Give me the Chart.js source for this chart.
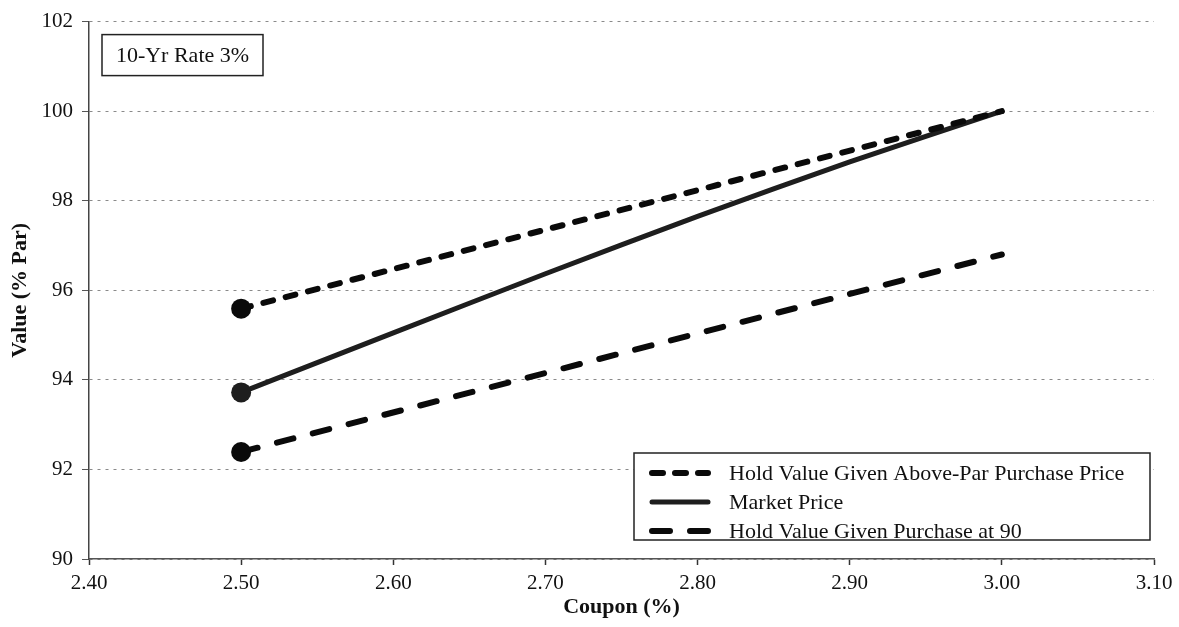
<!DOCTYPE html>
<html>
<head>
<meta charset="utf-8">
<script src="https://cdn.jsdelivr.net/npm/chart.js@4/dist/chart.umd.min.js"></script>
<style>
  html, body { margin: 0; padding: 0; background: #fff; }
  #wrap { width: 1179px; height: 627px; }
</style>
</head>
<body>
<div id="wrap"><canvas id="chart" width="1179" height="627"></canvas></div>
<script>
// values
const marketCoupons = [2.50, 2.60, 2.70, 2.80, 2.90, 3.00];
const marketPrice = [93.72, 95.05, 96.37, 97.65, 98.87, 100.0];
const holdCoupons = [2.50, 3.00];
const holdAbovePar = [95.59, 100.0];
const holdAt90 = [92.39, 96.80];

const seriesNames = [
  'Hold Value Given Above-Par Purchase Price',
  'Market Price',
  'Hold Value Given Purchase at 90'
];
const boxLabel = '10-Yr Rate 3%';

const serif = "'Liberation Serif', 'Times New Roman', serif";

const toPoints = (xs, ys) => xs.map((x, i) => ({ x: x, y: ys[i] }));
const firstOnly = n => Array.from({ length: n }, (_, i) => (i === 0 ? 10 : 0));

// legend box in the lower right and the note box in the upper left
const boxesPlugin = {
  id: 'boxes',
  afterDraw(chart) {
    const ctx = chart.ctx;
    const area = chart.chartArea;
    ctx.save();

    // note box
    ctx.font = '22px ' + serif;
    const nx = area.left + 13, ny = area.top + 13, nw = 161, nh = 41;
    ctx.fillStyle = '#fff';
    ctx.fillRect(nx, ny, nw, nh);
    ctx.strokeStyle = '#222';
    ctx.lineWidth = 1.5;
    ctx.strokeRect(nx, ny, nw, nh);
    ctx.fillStyle = '#111';
    ctx.textAlign = 'center';
    ctx.textBaseline = 'middle';
    ctx.fillText(boxLabel, nx + nw / 2, ny + nh / 2 + 1);

    // legend
    const lx = 634, ly = 453, lw = 516, lh = 87;
    ctx.fillStyle = '#fff';
    ctx.fillRect(lx, ly, lw, lh);
    ctx.strokeStyle = '#222';
    ctx.lineWidth = 1.5;
    ctx.strokeRect(lx, ly, lw, lh);
    ctx.textAlign = 'left';
    chart.data.datasets.forEach((ds, i) => {
      const y = ly + 20 + i * 29;
      ctx.save();
      ctx.strokeStyle = ds.borderColor;
      ctx.lineWidth = ds.borderWidth;
      ctx.lineCap = ds.borderCapStyle || 'butt';
      ctx.setLineDash(ds.legendDash || []);
      ctx.beginPath();
      ctx.moveTo(652, y);
      ctx.lineTo(708, y);
      ctx.stroke();
      ctx.restore();
      ctx.fillStyle = '#111';
      ctx.fillText(ds.label, 729, y + 1);
    });
    ctx.restore();
  }
};

const chart = new Chart(document.getElementById('chart').getContext('2d'), {
  type: 'scatter',
  data: {
    datasets: [
      {
        label: seriesNames[0],
        data: toPoints(holdCoupons, holdAbovePar),
        showLine: true,
        borderColor: '#0a0a0a',
        backgroundColor: '#0a0a0a',
        borderWidth: 6,
        borderDash: [10, 13],
        legendDash: [11, 12],
        borderCapStyle: 'round',
        pointRadius: firstOnly(holdCoupons.length),
        pointBorderWidth: 0,
        pointHoverRadius: 0
      },
      {
        label: seriesNames[1],
        data: toPoints(marketCoupons, marketPrice),
        showLine: true,
        borderColor: '#1e1e1e',
        backgroundColor: '#1e1e1e',
        borderWidth: 5,
        tension: 0.2,
        borderCapStyle: 'round',
        pointRadius: firstOnly(marketCoupons.length),
        pointBorderWidth: 0,
        pointHoverRadius: 0
      },
      {
        label: seriesNames[2],
        data: toPoints(holdCoupons, holdAt90),
        showLine: true,
        borderColor: '#0a0a0a',
        backgroundColor: '#0a0a0a',
        borderWidth: 6,
        borderDash: [17, 20],
        legendDash: [18, 20],
        borderCapStyle: 'round',
        pointRadius: firstOnly(holdCoupons.length),
        pointBorderWidth: 0,
        pointHoverRadius: 0
      }
    ]
  },
  options: {
    responsive: false,
    animation: false,
    layout: { padding: { left: 0, right: 25, top: 17, bottom: 0 } },
    plugins: {
      legend: { display: false },
      tooltip: { enabled: false }
    },
    scales: {
      x: {
        type: 'linear',
        min: 2.4,
        max: 3.1,
        afterFit: s => { s.height = 68; },
        ticks: {
          stepSize: 0.1,
          padding: 6,
          color: '#111',
          font: { family: serif, size: 21 },
          callback: v => Number(v).toFixed(2)
        },
        grid: {
          drawOnChartArea: false,
          drawTicks: true,
          tickLength: 6,
          tickColor: '#333',
          tickWidth: 1.5,
          tickBorderDash: []
        },
        border: { display: true, color: '#555', width: 1.5 },
        title: {
          display: true,
          text: 'Coupon (%)',
          color: '#111',
          font: { family: serif, size: 22, weight: 'bold' },
          padding: { top: 0, bottom: 6 }
        }
      },
      y: {
        min: 90,
        max: 102,
        afterFit: s => { s.width = 89; },
        ticks: {
          stepSize: 2,
          padding: 9,
          color: '#111',
          font: { family: serif, size: 21 }
        },
        grid: {
          color: '#8a8a8a',
          lineWidth: 1,
          drawTicks: true,
          tickLength: 7,
          tickColor: '#555',
          tickBorderDash: []
        },
        border: { display: true, color: '#444', width: 1.5, dash: [3, 5] },
        title: {
          display: true,
          text: 'Value (% Par)',
          color: '#111',
          font: { family: serif, size: 22, weight: 'bold' },
          padding: { top: 7, bottom: 0 }
        }
      }
    }
  },
  plugins: [boxesPlugin]
});
</script>
</body>
</html>
